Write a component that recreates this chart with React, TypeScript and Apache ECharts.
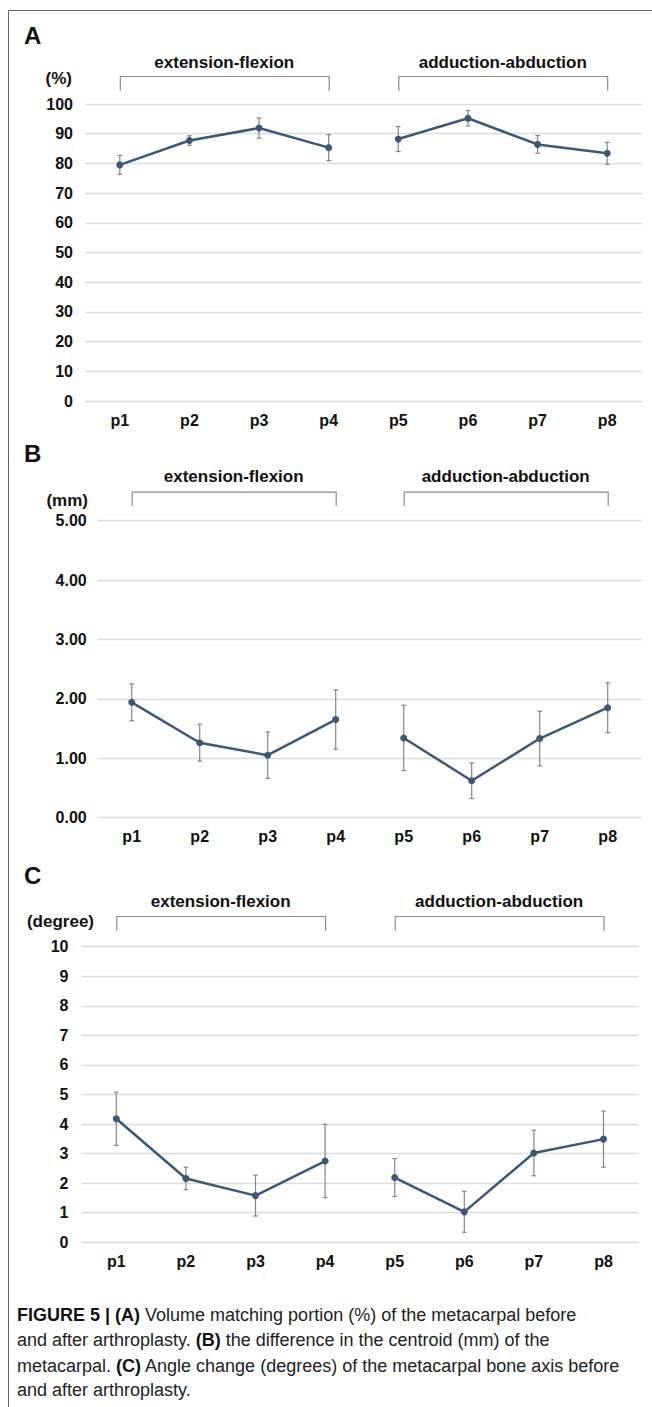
import React, { useEffect, useRef } from 'react';
import * as echarts from 'echarts';

const categories = ['p1', 'p2', 'p3', 'p4', 'p5', 'p6', 'p7', 'p8'];
const groupNames = ['extension-flexion', 'adduction-abduction'];
const panelLetters = ['A', 'B', 'C'];
const unitLabels = ['(%)', '(mm)', '(degree)'];

// Panel A: volume matching portion (%)
const volumeMean = [79.5, 87.7, 91.9, 85.3, 88.2, 95.2, 86.4, 83.4];
const volumeSD = [3.2, 1.6, 3.4, 4.4, 4.2, 2.6, 3.0, 3.7];
// Panel B: difference in centroid (mm)
const centroidMean = [1.94, 1.26, 1.05, 1.65, 1.34, 0.62, 1.33, 1.85];
const centroidSD = [0.31, 0.31, 0.39, 0.5, 0.55, 0.3, 0.46, 0.42];
// Panel C: angle change (degree)
const angleMean = [4.18, 2.16, 1.58, 2.75, 2.19, 1.03, 3.02, 3.49];
const angleSD = [0.9, 0.38, 0.69, 1.24, 0.64, 0.69, 0.77, 0.95];

const yMax = [100, 5, 10];
const yStep = [10, 1, 1];
const yDecimals = [0, 2, 0];

const captionLines = [
  '{b|FIGURE 5 | (A)} Volume matching portion (%) of the metacarpal before',
  'and after arthroplasty. {b|(B)} the difference in the centroid (mm) of the',
  'metacarpal. {b|(C)} Angle change (degrees) of the metacarpal bone axis before',
  'and after arthroplasty.',
];

const means = [volumeMean, centroidMean, angleMean];
const sds = [volumeSD, centroidSD, angleSD];

const layout = [
  { left: 85, right: 10, top: 104, height: 297, letterY: 35, titleY: 62, unitX: 72, unitY: 78, bTop: 76, bBot: 90.7, yMargin: 12 },
  { left: 97.7, right: 10.3, top: 520.7, height: 296.8, letterY: 453, titleY: 476.7, unitX: 88, unitY: 500, bTop: 491.7, bBot: 506, yMargin: 11 },
  { left: 81.5, right: 13.7, top: 946.7, height: 295.6, letterY: 875, titleY: 901.7, unitX: 94, unitY: 921.7, bTop: 916, bBot: 930.7, yMargin: 13 },
];

const FONT = "'Liberation Sans', Arial, sans-serif";
const LINE_COLOR = '#3d5876';
const ERR_COLOR = '#858585';
const BRACKET_COLOR = '#8a8a8a';

export default function App() {
  const ref = useRef<HTMLDivElement>(null);

  useEffect(() => {
    if (!ref.current) return;
    const chart = echarts.init(ref.current, undefined, { renderer: 'svg' });

    const grids: any[] = [];
    const xAxes: any[] = [];
    const yAxes: any[] = [];
    const series: any[] = [];

    layout.forEach((L, k) => {
      grids.push({ left: L.left, right: L.right, top: L.top, height: L.height, containLabel: false });
      xAxes.push({
        type: 'category',
        gridIndex: k,
        data: categories,
        boundaryGap: true,
        axisLine: { show: false },
        axisTick: { show: false },
        axisLabel: { color: '#111', fontWeight: 'bold', fontSize: 16, fontFamily: FONT, margin: 11 },
      });
      yAxes.push({
        type: 'value',
        gridIndex: k,
        min: 0,
        max: yMax[k],
        interval: yStep[k],
        axisLine: { show: false },
        axisTick: { show: false },
        splitLine: { show: true, lineStyle: { color: '#dcdcdc', width: 1.3 } },
        axisLabel: {
          color: '#111',
          fontWeight: 'bold',
          fontSize: 16,
          fontFamily: FONT,
          margin: L.yMargin,
          formatter: (v: number) => v.toFixed(yDecimals[k]),
        },
      });

      const m = means[k];
      const s = sds[k];
      series.push({
        type: 'custom',
        xAxisIndex: k,
        yAxisIndex: k,
        z: 1,
        renderItem: (params: any, api: any) => {
          const xi = api.value(0);
          const lo = api.coord([xi, api.value(1)]);
          const hi = api.coord([xi, api.value(2)]);
          const w = 2.3;
          const st = { stroke: ERR_COLOR, lineWidth: 1.2 };
          return {
            type: 'group',
            children: [
              { type: 'line', shape: { x1: hi[0], y1: hi[1], x2: lo[0], y2: lo[1] }, style: st },
              { type: 'line', shape: { x1: hi[0] - w, y1: hi[1], x2: hi[0] + w, y2: hi[1] }, style: st },
              { type: 'line', shape: { x1: lo[0] - w, y1: lo[1], x2: lo[0] + w, y2: lo[1] }, style: st },
            ],
          };
        },
        encode: { x: 0, y: [1, 2] },
        data: categories.map((c, i) => [i, m[i] - s[i], m[i] + s[i]]),
      });
      [0, 1].forEach((g) => {
        series.push({
          type: 'line',
          xAxisIndex: k,
          yAxisIndex: k,
          z: 3,
          symbol: 'circle',
          symbolSize: 7,
          lineStyle: { color: LINE_COLOR, width: 2.5 },
          itemStyle: { color: LINE_COLOR },
          data: categories.slice(g * 4, g * 4 + 4).map((c, i) => [c, m[g * 4 + i]]),
        });
      });
    });

    chart.setOption({
      animation: false,
      backgroundColor: '#ffffff',
      grid: grids,
      xAxis: xAxes,
      yAxis: yAxes,
      series,
    });

    const graphic: any[] = [];
    // frame
    graphic.push({ type: 'line', shape: { x1: 8.5, y1: 10.5, x2: 652, y2: 10.5 }, style: { stroke: '#666', lineWidth: 1 } });
    graphic.push({ type: 'line', shape: { x1: 8.5, y1: 10.5, x2: 8.5, y2: 1407 }, style: { stroke: '#666', lineWidth: 1 } });

    layout.forEach((L, k) => {
      const px = (c: string) => chart.convertToPixel({ xAxisIndex: k }, c) as unknown as number;
      graphic.push({
        type: 'text',
        x: 24,
        y: L.letterY,
        style: { text: panelLetters[k], font: `bold 24px ${FONT}`, fill: '#111', verticalAlign: 'middle', align: 'left' },
      });
      graphic.push({
        type: 'text',
        x: L.unitX,
        y: L.unitY,
        style: { text: unitLabels[k], font: `bold 17px ${FONT}`, fill: '#111', verticalAlign: 'middle', align: 'right' },
      });
      [0, 1].forEach((g) => {
        const xa = px(categories[g * 4]);
        const xb = px(categories[g * 4 + 3]);
        graphic.push({
          type: 'polyline',
          shape: { points: [[xa + 0.5, L.bBot], [xa + 0.5, L.bTop + 0.5], [xb + 0.5, L.bTop + 0.5], [xb + 0.5, L.bBot]] },
          style: { stroke: BRACKET_COLOR, lineWidth: 1.2, fill: null },
        });
        graphic.push({
          type: 'text',
          x: (xa + xb) / 2,
          y: L.titleY,
          style: { text: groupNames[g], font: `bold 17px ${FONT}`, fill: '#111', verticalAlign: 'middle', align: 'center' },
        });
      });
    });

    const capY = [1315, 1340, 1365.7, 1390];
    captionLines.forEach((t, i) => {
      graphic.push({
        type: 'text',
        x: 17,
        y: capY[i],
        style: {
          text: t,
          font: `18px ${FONT}`,
          fill: '#222',
          verticalAlign: 'middle',
          align: 'left',
          rich: { b: { fontWeight: 'bold', fontSize: 18, fontFamily: FONT, fill: '#111' } },
        },
      });
    });

    chart.setOption({ graphic });

    return () => chart.dispose();
  }, []);

  return (
    <div
      ref={ref}
      style={{ position: 'absolute', left: 0, top: 0, width: 652, height: 1407, background: '#fff' }}
    />
  );
}
